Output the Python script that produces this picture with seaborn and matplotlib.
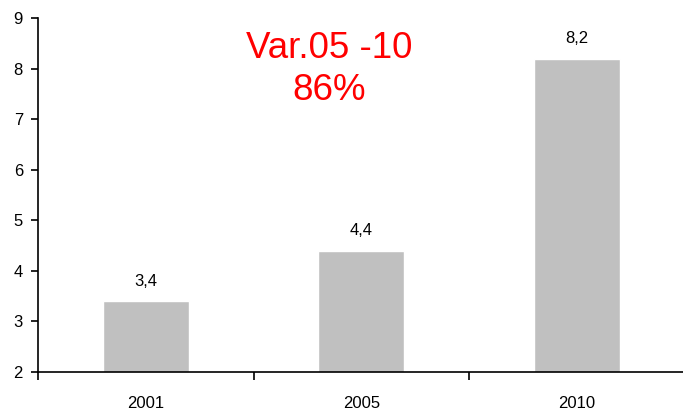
import matplotlib
matplotlib.use('Agg')
import matplotlib.pyplot as plt
import seaborn as sns
import pandas as pd

# chart data
years = ['2001', '2005', '2010']
values = [3.4, 4.4, 8.2]
value_labels = ['3,4', '4,4', '8,2']
note_text = 'Var.05 -10\n86%'

df = pd.DataFrame({'year': years, 'value': values})

sns.set_style('white')
plt.rcParams['font.family'] = ['Liberation Sans', 'DejaVu Sans']
plt.rcParams['text.color'] = 'black'
plt.rcParams['xtick.color'] = 'black'
plt.rcParams['ytick.color'] = 'black'

fig = plt.figure(figsize=(6.83, 4.12), dpi=100)
ax = fig.add_axes([0.056, 0.097, 0.946, 0.859])

sns.barplot(data=df, x='year', y='value', color='#c0c0c0', width=0.4,
            saturation=1, ax=ax)

for i, (v, lab) in enumerate(zip(values, value_labels)):
    ax.annotate(lab, (i, v), xytext=(0, 9), textcoords='offset points',
                ha='center', va='bottom', fontsize=12)

ax.set_ylim(2, 9)
ax.set_xlim(-0.5, 2.5)
ax.set_yticks(range(2, 10))
ax.set_xlabel('')
ax.set_ylabel('')

# ticks between categories
ax.set_xticks([-0.5, 0.5, 1.5, 2.5], minor=True)
ax.tick_params(axis='x', which='major', length=0, labelsize=12, pad=17)
ax.tick_params(axis='x', which='minor', length=6, width=1.2, color='black',
               direction='out', bottom=True)
ax.tick_params(axis='y', length=5, width=1.2, color='black', direction='out',
               left=True, labelsize=12, pad=6)

for s in ['top', 'right']:
    ax.spines[s].set_visible(False)
for s in ['left', 'bottom']:
    ax.spines[s].set_color('black')
    ax.spines[s].set_linewidth(1.2)

ax.text(0.85, 7.98, note_text, color='#ff0000', fontsize=26.5, ha='center',
        va='center', linespacing=1.25)

fig.savefig('out.png', dpi=100)
